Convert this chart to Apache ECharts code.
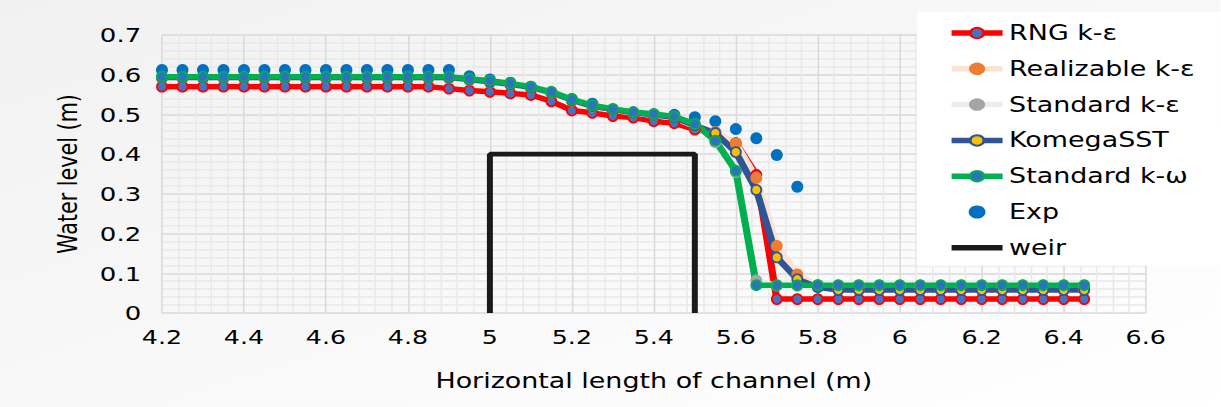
<!DOCTYPE html>
<html>
<head>
<meta charset="utf-8">
<title>Water level along the channel</title>
<script src="https://cdn.jsdelivr.net/npm/echarts@6/dist/echarts.min.js"></script>
<style>
  html, body { margin: 0; padding: 0; background: #ffffff; overflow: hidden; }
  #wrap { width: 1221px; height: 407px; overflow: hidden; }
  #chart { height: 407px; transform-origin: 0 0; }
</style>
</head>
<body>
<div id="wrap"><div id="chart"></div></div>
<script>
// Stations along the channel (m)
const stations = [
  4.20, 4.25, 4.30, 4.35, 4.40, 4.45, 4.50, 4.55, 4.60, 4.65,
  4.70, 4.75, 4.80, 4.85, 4.90, 4.95, 5.00, 5.05, 5.10, 5.15,
  5.20, 5.25, 5.30, 5.35, 5.40, 5.45, 5.50, 5.55, 5.60, 5.65,
  5.70, 5.75, 5.80, 5.85, 5.90, 5.95, 6.00, 6.05, 6.10, 6.15,
  6.20, 6.25, 6.30, 6.35, 6.40, 6.45
];

// Simulated water levels (m) for each turbulence model
const rngKe = [
  0.570, 0.570, 0.570, 0.570, 0.570, 0.570, 0.570, 0.570, 0.570, 0.570,
  0.570, 0.570, 0.570, 0.570, 0.565, 0.560, 0.557, 0.553, 0.549, 0.533,
  0.510, 0.504, 0.496, 0.492, 0.483, 0.478, 0.462, 0.452, 0.428, 0.348,
  0.035, 0.035, 0.035, 0.035, 0.035, 0.035, 0.035, 0.035, 0.035, 0.035,
  0.035, 0.035, 0.035, 0.035, 0.035, 0.035
];
const realizableKe = [
  0.592, 0.592, 0.592, 0.592, 0.592, 0.592, 0.592, 0.592, 0.592, 0.592,
  0.592, 0.592, 0.592, 0.592, 0.592, 0.587, 0.581, 0.575, 0.567, 0.554,
  0.535, 0.520, 0.511, 0.503, 0.498, 0.491, 0.470, 0.456, 0.427, 0.340,
  0.169, 0.097, 0.070, 0.060, 0.060, 0.060, 0.060, 0.060, 0.060, 0.060,
  0.060, 0.060, 0.060, 0.060, 0.060, 0.060
];
const standardKe = [
  0.594, 0.594, 0.594, 0.594, 0.594, 0.594, 0.594, 0.594, 0.594, 0.594,
  0.594, 0.594, 0.594, 0.594, 0.594, 0.589, 0.584, 0.577, 0.569, 0.556,
  0.537, 0.522, 0.513, 0.505, 0.500, 0.494, 0.475, 0.430, 0.355, 0.082,
  0.069, 0.069, 0.069, 0.069, 0.069, 0.069, 0.069, 0.069, 0.069, 0.069,
  0.069, 0.069, 0.069, 0.069, 0.069, 0.069
];
const komegaSST = [
  0.593, 0.593, 0.593, 0.593, 0.593, 0.593, 0.593, 0.593, 0.593, 0.593,
  0.593, 0.593, 0.593, 0.593, 0.593, 0.588, 0.582, 0.576, 0.568, 0.555,
  0.536, 0.521, 0.512, 0.504, 0.499, 0.492, 0.472, 0.453, 0.405, 0.310,
  0.140, 0.085, 0.065, 0.058, 0.058, 0.058, 0.058, 0.058, 0.058, 0.058,
  0.058, 0.058, 0.058, 0.058, 0.058, 0.058
];
const standardKw = [
  0.595, 0.595, 0.595, 0.595, 0.595, 0.595, 0.595, 0.595, 0.595, 0.595,
  0.595, 0.595, 0.595, 0.595, 0.595, 0.590, 0.585, 0.578, 0.570, 0.557,
  0.538, 0.523, 0.514, 0.506, 0.501, 0.495, 0.476, 0.434, 0.358, 0.070,
  0.070, 0.070, 0.070, 0.070, 0.070, 0.070, 0.070, 0.070, 0.070, 0.070,
  0.070, 0.070, 0.070, 0.070, 0.070, 0.070
];
// Measured water levels (m), stations 4.20 to 5.75
const expLevel = [
  0.612, 0.612, 0.612, 0.612, 0.612, 0.612, 0.612, 0.612, 0.612, 0.612,
  0.612, 0.612, 0.612, 0.612, 0.612, 0.596, 0.588, 0.580, 0.570, 0.556,
  0.539, 0.527, 0.512, 0.504, 0.500, 0.499, 0.493, 0.483, 0.463, 0.440,
  0.398, 0.318
];
// Weir outline
const weirX = [5.0, 5.0, 5.5, 5.5];
const weirY = [0.0, 0.4, 0.4, 0.0];

// Tick labels
const xTickLabels = ['4.2', '4.4', '4.6', '4.8', '5', '5.2', '5.4', '5.6', '5.8', '6', '6.2', '6.4', '6.6'];
const yTickLabels = ['0', '0.1', '0.2', '0.3', '0.4', '0.5', '0.6', '0.7'];

const X_MIN = 4.2, X_MAX = 6.6, X_STEP = 0.2;
const Y_MIN = 0, Y_MAX = 0.7, Y_STEP = 0.1;

// The drawing is widened horizontally; sizes along x are divided by SX
const SX = 1.3;
const W = 1221 / SX;
const FONT = 'DejaVu Sans';

const el = document.getElementById('chart');
el.style.width = W + 'px';
el.style.transform = 'scaleX(' + SX + ')';

function pairs(xs, ys) { return ys.map(function (v, i) { return [xs[i], v]; }); }

function modelSeries(name, values, lineColor, fill, border) {
  return {
    name: name,
    type: 'line',
    data: pairs(stations, values),
    symbol: 'circle',
    symbolSize: [10 / SX, 10],
    showSymbol: true,
    lineStyle: { color: lineColor, width: 5.5, join: 'round' },
    itemStyle: { color: fill, borderColor: border, borderWidth: 1.6, opacity: 1 },
    emphasis: { disabled: true },
    animation: false
  };
}

const chart = echarts.init(el, null, { renderer: 'svg' });

chart.setOption({
  backgroundColor: {
    type: 'linear', x: 0, y: 0, x2: 1, y2: 1,
    colorStops: [{ offset: 0, color: '#f1f1f1' }, { offset: 1, color: '#ffffff' }]
  },
  animation: false,
  textStyle: { fontFamily: FONT },
  grid: { left: 162 / SX, right: 75 / SX, top: 35, bottom: 94, containLabel: false },
  xAxis: {
    type: 'value', min: X_MIN, max: X_MAX, interval: X_STEP,
    axisLine: { show: false }, axisTick: { show: false },
    axisLabel: {
      color: '#000', fontSize: 19.5, fontFamily: FONT, margin: 14,
      formatter: function (v) { return xTickLabels[Math.round((v - X_MIN) / X_STEP)]; }
    },
    splitLine: { show: true, lineStyle: { color: '#d9d9d9', width: 1.5 / SX } },
    minorTick: { show: false, splitNumber: 5 },
    minorSplitLine: { show: true, lineStyle: { color: '#e9e9e9', width: 1.5 / SX } },
    name: 'Horizontal length of channel (m)', nameLocation: 'middle', nameGap: 58,
    nameTextStyle: { color: '#000', fontSize: 20.7, fontFamily: FONT }
  },
  yAxis: {
    type: 'value', min: Y_MIN, max: Y_MAX, interval: Y_STEP,
    axisLine: { show: false }, axisTick: { show: false },
    axisLabel: {
      color: '#000', fontSize: 20, fontFamily: FONT, margin: 16,
      formatter: function (v) { return yTickLabels[Math.round((v - Y_MIN) / Y_STEP)]; }
    },
    splitLine: { show: true, lineStyle: { color: '#d9d9d9', width: 1.5 } },
    minorTick: { show: false, splitNumber: 5 },
    minorSplitLine: { show: true, lineStyle: { color: '#e9e9e9', width: 1.5 } },
    name: 'Water level (m)', nameLocation: 'middle', nameGap: 62, nameRotate: 90,
    nameTextStyle: { color: '#000', fontSize: 20.7, fontFamily: FONT }
  },
  legend: {
    orient: 'vertical',
    left: 917 / SX, top: 12,
    backgroundColor: '#ffffff',
    padding: [9, 40, 6, 31 / SX],
    itemWidth: 51 / SX, itemHeight: 13, itemGap: 11.8,
    lineStyle: { width: 5.5 },
    textStyle: { color: '#000', fontSize: 20.7, fontFamily: FONT, lineHeight: 24 },
    selectedMode: false,
    data: [
      'RNG k-ε', 'Realizable k-ε', 'Standard k-ε', 'KomegaSST', 'Standard k-ω', 'Exp',
      { name: 'weir', itemStyle: { color: 'rgba(0,0,0,0)', borderWidth: 0 } }
    ]
  },
  series: [
    modelSeries('RNG k-ε', rngKe, '#ff0000', '#4472c4', '#ff0000'),
    modelSeries('Realizable k-ε', realizableKe, '#fbe3d3', '#ed7d31', '#ed7d31'),
    modelSeries('Standard k-ε', standardKe, '#ececec', '#a5a5a5', '#a5a5a5'),
    modelSeries('KomegaSST', komegaSST, '#2f5597', '#ffc000', '#2f5597'),
    modelSeries('Standard k-ω', standardKw, '#00b050', '#2f6fc4', '#00b050'),
    {
      name: 'Exp', type: 'scatter',
      data: pairs(stations, expLevel),
      symbol: 'circle', symbolSize: [12 / SX, 12],
      itemStyle: { color: '#0070c0', opacity: 1 },
      emphasis: { disabled: true }, animation: false
    },
    {
      name: 'weir', type: 'line',
      data: pairs(weirX, weirY),
      symbol: 'none',
      lineStyle: { color: '#1a1a1a', width: 4.6 },
      itemStyle: { color: '#1a1a1a' },
      emphasis: { disabled: true }, animation: false
    }
  ]
});
</script>
</body>
</html>
